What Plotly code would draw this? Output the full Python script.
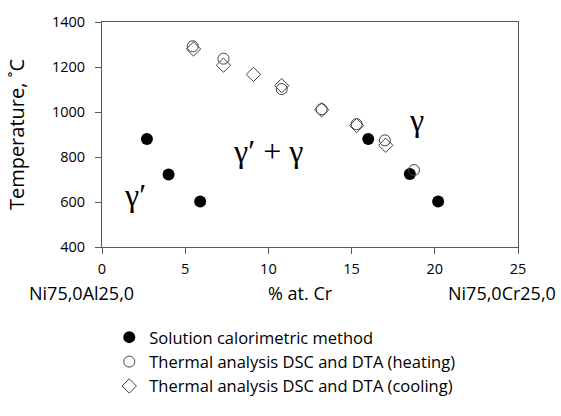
import plotly.graph_objects as go

# Solution calorimetric method
sol_x = [2.7, 4.0, 5.9, 16.0, 18.5, 20.2]
sol_t = [880, 722, 602, 880, 724, 602]

# Thermal analysis DSC and DTA (heating)
heat_x = [5.45, 7.3, 10.8, 13.2, 15.3, 17.0, 18.75]
heat_t = [1292, 1237, 1102, 1012, 946, 874, 742]

# Thermal analysis DSC and DTA (cooling)
cool_x = [5.5, 7.3, 9.1, 10.8, 13.2, 15.3, 17.05]
cool_t = [1280, 1208, 1167, 1117, 1010, 940, 852]

y_ticks = [400, 600, 800, 1000, 1200, 1400]
x_ticks = [0, 5, 10, 15, 20, 25]

FONT = "Open Sans"
AXC = "#595959"

fig = go.Figure()
fig.add_trace(go.Scatter(x=sol_x, y=sol_t, mode="markers",
                         name="Solution calorimetric method",
                         marker=dict(symbol="circle", size=12, color="black",
                                     line=dict(width=0))))
fig.add_trace(go.Scatter(x=heat_x, y=heat_t, mode="markers",
                         name="Thermal analysis DSC and DTA (heating)",
                         marker=dict(symbol="circle-open", size=11, color="#404040",
                                     line=dict(width=1, color="#404040"))))
fig.add_trace(go.Scatter(x=cool_x, y=cool_t, mode="markers",
                         name="Thermal analysis DSC and DTA (cooling)",
                         marker=dict(symbol="diamond-open", size=11, color="#404040",
                                     line=dict(width=1, color="#404040"))))

serif = dict(family="Liberation Serif", size=32, color="black")
fig.add_annotation(x=2.0, y=630, text="γ′", showarrow=False, font=serif)
fig.add_annotation(x=10.0, y=827, text="γ′ + γ", showarrow=False, font=serif)
fig.add_annotation(x=18.9, y=966, text="γ", showarrow=False, font=serif)

lab = dict(family=FONT, size=18, color="black")
fig.add_annotation(xref="paper", yref="paper", x=-0.18, y=-0.205, xanchor="left",
                   yanchor="middle", text="Ni75,0Al25,0", showarrow=False, font=lab)
fig.add_annotation(xref="paper", yref="paper", x=0.4767, y=-0.205, xanchor="center",
                   yanchor="middle", text="% at. Cr", showarrow=False, font=lab)
fig.add_annotation(xref="paper", yref="paper", x=1.096, y=-0.205, xanchor="right",
                   yanchor="middle", text="Ni75,0Cr25,0", showarrow=False, font=lab)

fig.update_layout(
    width=561, height=416,
    margin=dict(l=102, r=43, t=19, b=157),
    paper_bgcolor="white", plot_bgcolor="white",
    font=dict(family=FONT, size=15, color="black"),
    showlegend=True,
    legend=dict(x=0.0175, y=-0.324, xanchor="left", yanchor="top",
                font=dict(family=FONT, size=16.5, color="black"),
                bgcolor="rgba(0,0,0,0)", tracegroupgap=0, itemwidth=30),
    xaxis=dict(range=[0, 25], tickvals=x_ticks, ticks="outside", ticklen=6,
               tickcolor=AXC, showline=True, linecolor=AXC, linewidth=1,
               mirror=True, showgrid=False, zeroline=False, ticklabelstandoff=3,
               tickfont=dict(family=FONT, size=14.5, color="black")),
    yaxis=dict(range=[400, 1400], tickvals=y_ticks, ticks="outside", ticklen=6,
               tickcolor=AXC, showline=True, linecolor=AXC, linewidth=1,
               mirror=True, showgrid=False, zeroline=False, ticklabelstandoff=7,
               title=dict(text="Temperature, ˚C", standoff=21,
                          font=dict(family=FONT, size=20, color="black")),
               tickfont=dict(family=FONT, size=14.5, color="black")),
)

fig.write_html("out.html", config={"displayModeBar": False},
               post_script="document.body.style.margin='0';")
